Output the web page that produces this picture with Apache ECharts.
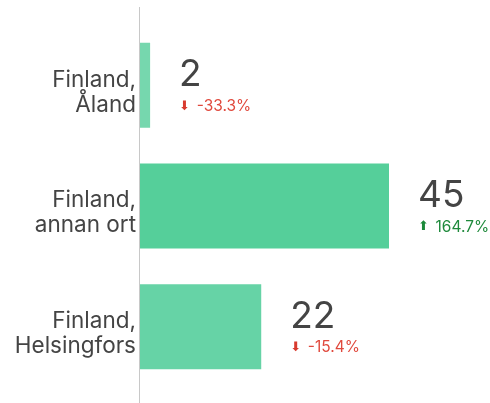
<!DOCTYPE html>
<html>
<head>
<meta charset="utf-8">
<script src="https://cdn.jsdelivr.net/npm/echarts@6/dist/echarts.min.js"></script>
<style>
  html, body { margin: 0; padding: 0; background: #fff; }
  #chart { width: 490px; height: 403px; }
</style>
</head>
<body>
<div id="chart"></div>
<script>
// kategorier, antal och förändring mot föregående period
var categories = ['Finland,\nÅland', 'Finland,\nannan ort', 'Finland,\nHelsingfors']
var values = [2, 45, 22]
var changes = ['-33.3%', '164.7%', '-15.4%']
var barColors = ['#76d7ae', '#55cf9a', '#66d3a6']

var font = 'Inter'

var chart = echarts.init(document.getElementById('chart'))

var option = {
    animation: false,
    grid: { left: 139, top: 25, width: 300, height: 362 },
    xAxis: {
        type: 'value',
        min: 0,
        max: 54,
        show: false
    },
    yAxis: {
        type: 'category',
        inverse: true,
        data: categories,
        axisLine: { show: false },
        axisTick: { show: false },
        axisLabel: {
            margin: 3,
            align: 'right',
            // tom rad överst skjuter etiketten lite nedåt
            formatter: function (val) {
                return '{s| }\n' + val.split('\n').map(function (t) {
                    return '{a|' + t + '}'
                }).join('\n')
            },
            rich: {
                s: { fontSize: 1, lineHeight: 14 },
                a: { color: '#444', fontFamily: font, fontSize: 22.5, lineHeight: 25, align: 'right' }
            }
        }
    },
    // vertikal linje längs kategoriaxeln
    graphic: [{
        type: 'line',
        shape: { x1: 139.5, y1: 7, x2: 139.5, y2: 403 },
        style: { stroke: '#c8c8c8', lineWidth: 1 },
        z: 10
    }],
    series: [{
        type: 'bar',
        barCategoryGap: '29.5%',
        data: values.map(function (v, i) {
            return { value: v, itemStyle: { color: barColors[i] } }
        }),
        label: {
            show: true,
            position: 'right',
            distance: 29,
            formatter: function (p) {
                var c = changes[p.dataIndex]
                var down = c.charAt(0) === '-'
                return '{v|' + p.value + '}\n' +
                    (down ? '{ad|⬇}  {pd|' + c + '}' : '{au|⬆}  {pu|' + c + '}')
            },
            rich: {
                v: { fontFamily: font, fontSize: 37, color: '#444', lineHeight: 42 },
                ad: { fontFamily: 'DejaVu Sans', fontSize: 13, color: '#d83a2e', lineHeight: 20 },
                au: { fontFamily: 'DejaVu Sans', fontSize: 13, color: '#1c8a3a', lineHeight: 20 },
                pd: { fontFamily: font, fontSize: 15.5, color: '#e0493d', lineHeight: 20 },
                pu: { fontFamily: font, fontSize: 15.5, color: '#1f8a3c', lineHeight: 20 }
            }
        }
    }]
}

chart.setOption(option)
</script>
</body>
</html>
